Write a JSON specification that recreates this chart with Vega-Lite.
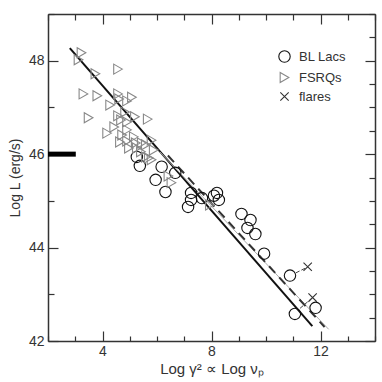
{
  "$schema": "https://vega.github.io/schema/vega-lite/v6.json",
  "width": 327,
  "height": 327,
  "autosize": "none",
  "padding": {"left": 48, "top": 14, "right": 7, "bottom": 41},
  "background": "white",
  "config": {
    "view": {"stroke": null},
    "font": "Liberation Sans",
    "axis": {"domainColor": "#333", "tickColor": "#333", "labelColor": "#333", "titleColor": "#333", "labelFont": "Liberation Sans", "titleFont": "Liberation Sans", "grid": false, "domainWidth": 1.5, "tickWidth": 1.2},
    "legend": {"orient": "none", "legendX": 230, "legendY": 36, "labelFontSize": 13, "labelFont": "Liberation Sans", "labelColor": "#333", "rowPadding": 5, "symbolStrokeWidth": 1.1, "labelOffset": 8, "padding": 0, "symbolFillColor": "transparent"}
  },
  "datasets": {
    "points": [
      {"type": "BL Lacs", "x": 5.26, "y": 45.94},
      {"type": "BL Lacs", "x": 5.37, "y": 45.75},
      {"type": "BL Lacs", "x": 6.17, "y": 45.73},
      {"type": "BL Lacs", "x": 5.95, "y": 45.45},
      {"type": "BL Lacs", "x": 6.67, "y": 45.6},
      {"type": "BL Lacs", "x": 6.31, "y": 45.19},
      {"type": "BL Lacs", "x": 7.14, "y": 44.87},
      {"type": "BL Lacs", "x": 7.25, "y": 45.02},
      {"type": "BL Lacs", "x": 7.25, "y": 45.17},
      {"type": "BL Lacs", "x": 7.65, "y": 45.06},
      {"type": "BL Lacs", "x": 8.09, "y": 45.11},
      {"type": "BL Lacs", "x": 8.2, "y": 45.17},
      {"type": "BL Lacs", "x": 8.27, "y": 45.02},
      {"type": "BL Lacs", "x": 9.1, "y": 44.72},
      {"type": "BL Lacs", "x": 9.43, "y": 44.59},
      {"type": "BL Lacs", "x": 9.32, "y": 44.42},
      {"type": "BL Lacs", "x": 9.61, "y": 44.29},
      {"type": "BL Lacs", "x": 9.93, "y": 43.87},
      {"type": "BL Lacs", "x": 10.88, "y": 43.4},
      {"type": "BL Lacs", "x": 11.06, "y": 42.58},
      {"type": "BL Lacs", "x": 11.82, "y": 42.71},
      {"type": "FSRQs", "x": 3.23, "y": 48.17},
      {"type": "FSRQs", "x": 3.12, "y": 48.02},
      {"type": "FSRQs", "x": 3.74, "y": 47.72},
      {"type": "FSRQs", "x": 4.57, "y": 47.82},
      {"type": "FSRQs", "x": 3.3, "y": 47.29},
      {"type": "FSRQs", "x": 3.81, "y": 47.25},
      {"type": "FSRQs", "x": 4.57, "y": 47.29},
      {"type": "FSRQs", "x": 4.61, "y": 47.18},
      {"type": "FSRQs", "x": 5.08, "y": 47.22},
      {"type": "FSRQs", "x": 4.9, "y": 47.14},
      {"type": "FSRQs", "x": 4.28, "y": 47.05},
      {"type": "FSRQs", "x": 3.49, "y": 46.78},
      {"type": "FSRQs", "x": 4.57, "y": 46.82},
      {"type": "FSRQs", "x": 4.68, "y": 46.73},
      {"type": "FSRQs", "x": 5.19, "y": 46.8},
      {"type": "FSRQs", "x": 4.9, "y": 46.69},
      {"type": "FSRQs", "x": 5.66, "y": 46.75},
      {"type": "FSRQs", "x": 4.17, "y": 46.45},
      {"type": "FSRQs", "x": 4.43, "y": 46.58},
      {"type": "FSRQs", "x": 4.72, "y": 46.41},
      {"type": "FSRQs", "x": 4.9, "y": 46.52},
      {"type": "FSRQs", "x": 4.64, "y": 46.26},
      {"type": "FSRQs", "x": 4.9, "y": 46.28},
      {"type": "FSRQs", "x": 5.22, "y": 46.24},
      {"type": "FSRQs", "x": 5.59, "y": 46.2},
      {"type": "FSRQs", "x": 5.8, "y": 46.3},
      {"type": "FSRQs", "x": 5.26, "y": 46.13},
      {"type": "FSRQs", "x": 5.59, "y": 45.94},
      {"type": "FSRQs", "x": 5.8, "y": 45.88},
      {"type": "FSRQs", "x": 5.41, "y": 46.05},
      {"type": "FSRQs", "x": 5.7, "y": 45.92},
      {"type": "FSRQs", "x": 5.44, "y": 46.24},
      {"type": "FSRQs", "x": 4.97, "y": 46.13},
      {"type": "FSRQs", "x": 6.53, "y": 45.39},
      {"type": "FSRQs", "x": 6.42, "y": 45.53},
      {"type": "FSRQs", "x": 7.94, "y": 44.91},
      {"type": "FSRQs", "x": 5.15, "y": 46.37},
      {"type": "FSRQs", "x": 4.83, "y": 46.9},
      {"type": "FSRQs", "x": 5.88, "y": 46.09},
      {"type": "flares", "x": 11.53, "y": 43.59},
      {"type": "flares", "x": 11.71, "y": 42.93}
    ],
    "lines": [
      {"s": "solid", "x": 2.8, "y": 48.27},
      {"s": "solid", "x": 11.7, "y": 42.32},
      {"s": "gray", "x": 6.1, "y": 46.05},
      {"s": "gray", "x": 12.3, "y": 42.25},
      {"s": "dash", "x": 6.4, "y": 45.97},
      {"s": "dash", "x": 12.15, "y": 42.3}
    ],
    "links": [
      {"g": 1, "x": 11.1, "y": 43.46},
      {"g": 1, "x": 11.48, "y": 43.57},
      {"g": 2, "x": 11.25, "y": 42.7},
      {"g": 2, "x": 11.65, "y": 42.9}
    ],
    "bar": [{"x": 2, "x2": 3.02, "y": 46}]
  },
  "resolve": {"axis": {"x": "independent", "y": "independent"}},
  "layer": [
    {
      "data": {"name": "lines"},
      "transform": [{"filter": "datum.s == 'solid'"}],
      "mark": {"type": "line", "color": "#111", "strokeWidth": 2},
      "encoding": {
        "x": {"field": "x", "type": "quantitative", "scale": {"domain": [2, 14], "nice": false, "zero": false},
          "axis": {"orient": "bottom", "values": [2,3,4,5,6,7,8,9,10,11,12,13,14], "format": "d", "labelExpr": "datum.value % 4 == 0 ? datum.label : ''",
            "tickSize": {"condition": {"test": "datum.value % 4 == 0", "value": -10}, "value": -5},
            "labelPadding": 13, "labelFontSize": 14, "title": "Log γ² ∝ Log νₚ", "titleFontSize": 15, "titleFontWeight": "normal", "titlePadding": 3}},
        "y": {"field": "y", "type": "quantitative", "scale": {"domain": [42, 49], "nice": false, "zero": false},
          "axis": {"orient": "left", "values": [42,42.5,43,43.5,44,44.5,45,45.5,46,46.5,47,47.5,48,48.5,49], "format": "d", "labelExpr": "datum.value % 2 == 0 ? datum.label : ''",
            "tickSize": {"condition": {"test": "datum.value % 2 == 0", "value": -10}, "value": -6},
            "labelPadding": 14, "labelFontSize": 14, "title": "Log L (erg/s)", "titleFontSize": 14, "titleFontWeight": "normal", "titlePadding": 6}}
      }
    },
    {
      "data": {"name": "bar"},
      "mark": {"type": "rule", "color": "#000", "strokeWidth": 5, "strokeCap": "butt"},
      "encoding": {
        "x": {"field": "x", "type": "quantitative",
          "axis": {"orient": "top", "values": [2,3,4,5,6,7,8,9,10,11,12,13,14], "labels": false, "title": null,
            "tickSize": {"condition": {"test": "datum.value % 4 == 0", "value": -10}, "value": -6}}},
        "x2": {"field": "x2"},
        "y": {"field": "y", "type": "quantitative",
          "axis": {"orient": "right", "values": [42,42.5,43,43.5,44,44.5,45,45.5,46,46.5,47,47.5,48,48.5,49], "labels": false, "title": null,
            "tickSize": {"condition": {"test": "datum.value % 2 == 0", "value": -10}, "value": -6}}}
      }
    },
    {
      "data": {"name": "lines"},
      "transform": [{"filter": "datum.s == 'gray'"}],
      "mark": {"type": "line", "color": "#aaa", "strokeWidth": 1},
      "encoding": {"x": {"field": "x", "type": "quantitative", "axis": null}, "y": {"field": "y", "type": "quantitative", "axis": null}}
    },
    {
      "data": {"name": "lines"},
      "transform": [{"filter": "datum.s == 'dash'"}],
      "mark": {"type": "line", "color": "#333", "strokeWidth": 2, "strokeDash": [9, 6]},
      "encoding": {"x": {"field": "x", "type": "quantitative", "axis": null}, "y": {"field": "y", "type": "quantitative", "axis": null}}
    },
    {
      "data": {"name": "links"},
      "mark": {"type": "line", "color": "#444", "strokeWidth": 1, "strokeDash": [4, 2]},
      "encoding": {"x": {"field": "x", "type": "quantitative", "axis": null}, "y": {"field": "y", "type": "quantitative", "axis": null}, "detail": {"field": "g"}}
    },
    {
      "data": {"name": "points"},
      "mark": {"type": "point", "filled": false, "strokeWidth": 1.1, "opacity": 1},
      "encoding": {
        "x": {"field": "x", "type": "quantitative", "axis": null},
        "y": {"field": "y", "type": "quantitative", "axis": null},
        "shape": {"field": "type", "type": "nominal", "title": null, "scale": {"domain": ["BL Lacs", "FSRQs", "flares"], "range": ["circle", "triangle-right", "M-1,-1L1,1M1,-1L-1,1"]}},
        "stroke": {"field": "type", "type": "nominal", "title": null, "scale": {"domain": ["BL Lacs", "FSRQs", "flares"], "range": ["#111", "#888", "#333"]}},
        "size": {"field": "type", "type": "nominal", "title": null, "scale": {"domain": ["BL Lacs", "FSRQs", "flares"], "range": [130, 70, 80]}}
      }
    }
  ]
}
